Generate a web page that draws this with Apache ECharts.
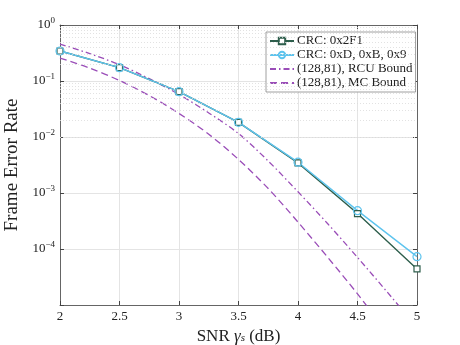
<!DOCTYPE html>
<html>
<head>
<meta charset="utf-8">
<script src="https://cdn.jsdelivr.net/npm/echarts@6/dist/echarts.min.js"></script>
<style>
  html, body { margin: 0; padding: 0; background: #fff; }
  #main { width: 460px; height: 345px; }
</style>
</head>
<body>
<div id="main"></div>
<script>
// measured points
var snr = [2, 2.5, 3, 3.5, 4, 4.5, 5];
var crc2F1 = [0.343, 0.173, 0.0645, 0.0183, 0.00345, 0.00043, 0.000044];
var crcDB9 = [0.343, 0.173, 0.0645, 0.0183, 0.00355, 0.000484, 0.000073];

// bounds (finer grid)
var snrFine = [2, 2.25, 2.5, 2.75, 3, 3.25, 3.5, 3.75, 4, 4.25, 4.5, 4.75, 5];
var rcuBound = [0.457, 0.309, 0.195, 0.110, 0.0575, 0.0269, 0.0115, 0.00372, 0.00105, 0.000282, 0.0000708, 0.0000170, 0.00000398];
var mcBound = [0.257, 0.170, 0.102, 0.055, 0.0263, 0.0112, 0.00398, 0.00120, 0.000302, 0.0000708, 0.0000158, 0.00000316, 0.00000063];

var legendNames = ['CRC: 0x2F1', 'CRC: 0xD, 0xB, 0x9', '(128,81), RCU Bound', '(128,81), MC Bound'];

function pairs(xs, ys) {
  return xs.map(function (x, i) { return [x, ys[i]]; });
}

// dotted minor grid at 2..9 x 10^k
var minorLines = [];
for (var k = -5; k < 0; k++) {
  for (var m = 2; m <= 9; m++) {
    minorLines.push({ yAxis: m * Math.pow(10, k) });
  }
}

var serif = 'Liberation Serif';
var purple = '#9a4db8';
var noMark = { color: 'rgba(0,0,0,0)', borderColor: 'rgba(0,0,0,0)', borderWidth: 0 };

var myChart = echarts.init(document.getElementById('main'));

var option = {
  backgroundColor: '#fff',
  animation: false,
  textStyle: { fontFamily: serif },
  grid: { left: 60, right: 43, top: 25, bottom: 40, show: false, containLabel: false, outerBoundsMode: 'none' },
  legend: {
    orient: 'vertical',
    left: 266,
    top: 32,
    data: [
      { name: legendNames[0] },
      { name: legendNames[1] },
      { name: legendNames[2], itemStyle: noMark },
      { name: legendNames[3], itemStyle: noMark }
    ],
    backgroundColor: '#fff',
    borderColor: '#888',
    borderWidth: 0.8,
    borderRadius: 0,
    padding: [2, 3, 2, 3],
    itemGap: 0,
    itemWidth: 24,
    itemHeight: 8,
    textStyle: { fontFamily: serif, fontSize: 13, color: '#222', lineHeight: 14, padding: [0, 0, 0, -2] }
  },
  xAxis: [{
    type: 'value',
    min: 2, max: 5, interval: 0.5,
    name: '{a|SNR }{i|γ}{s|s}{a| (dB)}',
    nameLocation: 'middle',
    nameGap: 19,
    nameTextStyle: {
      rich: {
        a: { fontFamily: serif, fontSize: 17, color: '#222' },
        i: { fontFamily: serif, fontSize: 17, fontStyle: 'italic', color: '#222' },
        s: { fontFamily: serif, fontSize: 11, fontStyle: 'italic', color: '#222', padding: [0, 0, -4, 0] }
      }
    },
    axisLine: { lineStyle: { color: '#444', width: 0.8 } },
    axisTick: { inside: true, length: 4, lineStyle: { color: '#444' } },
    axisLabel: { fontFamily: serif, fontSize: 13, color: '#222', margin: 5 },
    splitLine: { show: true, lineStyle: { color: '#e4e4e4', width: 1 } }
  }, {
    type: 'value',
    position: 'top',
    min: 2, max: 5, interval: 0.5,
    axisLine: { lineStyle: { color: '#444', width: 0.8 } },
    axisTick: { inside: true, length: 4, lineStyle: { color: '#444' } },
    axisLabel: { show: false },
    splitLine: { show: false }
  }],
  yAxis: [{
    type: 'log',
    logBase: 10,
    min: 0.00001, max: 1,
    splitNumber: 5,
    name: 'Frame Error Rate',
    nameLocation: 'middle',
    nameGap: 33,
    nameTextStyle: { fontFamily: serif, fontSize: 19, color: '#222' },
    axisLine: { show: true, lineStyle: { color: '#444', width: 0.8 } },
    axisTick: { inside: true, length: 4, lineStyle: { color: '#444' } },
    axisLabel: {
      margin: 5,
      formatter: function (v) {
        var e = Math.round(Math.log(v) / Math.LN10);
        if (e <= -5) return '';
        return '{b|10}{e|' + (e === 0 ? '0' : '\u2212' + (-e)) + '}';
      },
      rich: {
        b: { fontFamily: serif, fontSize: 13, color: '#222' },
        e: { fontFamily: serif, fontSize: 9, color: '#222', padding: [0, 0, 8, 0] }
      }
    },
    splitLine: { show: true, lineStyle: { color: '#e4e4e4', width: 1 } }
  }, {
    type: 'log',
    logBase: 10,
    position: 'right',
    min: 0.00001, max: 1,
    splitNumber: 5,
    axisLine: { show: true, lineStyle: { color: '#444', width: 0.8 } },
    axisTick: { inside: true, length: 4, lineStyle: { color: '#444' } },
    axisLabel: { show: false },
    splitLine: { show: false }
  }],
  series: [{
    type: 'line',
    name: 'minor',
    data: [],
    silent: true,
    markLine: {
      silent: true,
      symbol: 'none',
      label: { show: false },
      lineStyle: { color: '#dadada', type: [1, 2], width: 0.8 },
      data: minorLines
    }
  }, {
    type: 'line',
    name: legendNames[2],
    data: pairs(snrFine, rcuBound),
    smooth: 0.3,
    showSymbol: false,
    symbol: 'none',
    color: purple,
    lineStyle: { color: purple, width: 1.3, type: [6, 3, 1.5, 3] }
  }, {
    type: 'line',
    name: legendNames[3],
    data: pairs(snrFine, mcBound),
    smooth: 0.3,
    showSymbol: false,
    symbol: 'none',
    color: purple,
    lineStyle: { color: purple, width: 1.3, type: [7, 4] }
  }, {
    type: 'line',
    name: legendNames[0],
    data: pairs(snr, crc2F1),
    symbol: 'rect',
    symbolSize: 6,
    color: '#2e5e4c',
    lineStyle: { color: '#2e5e4c', width: 1.4 },
    itemStyle: { color: '#fff', borderColor: '#2e5e4c', borderWidth: 1.2 }
  }, {
    type: 'line',
    name: legendNames[1],
    data: pairs(snr, crcDB9),
    symbol: 'circle',
    symbolSize: 8,
    color: '#5ec4ee',
    lineStyle: { color: '#5ec4ee', width: 1.4 },
    itemStyle: { color: 'rgba(255,255,255,0)', borderColor: '#5ec4ee', borderWidth: 1.2 }
  }]
};

myChart.setOption(option);
</script>
</body>
</html>
